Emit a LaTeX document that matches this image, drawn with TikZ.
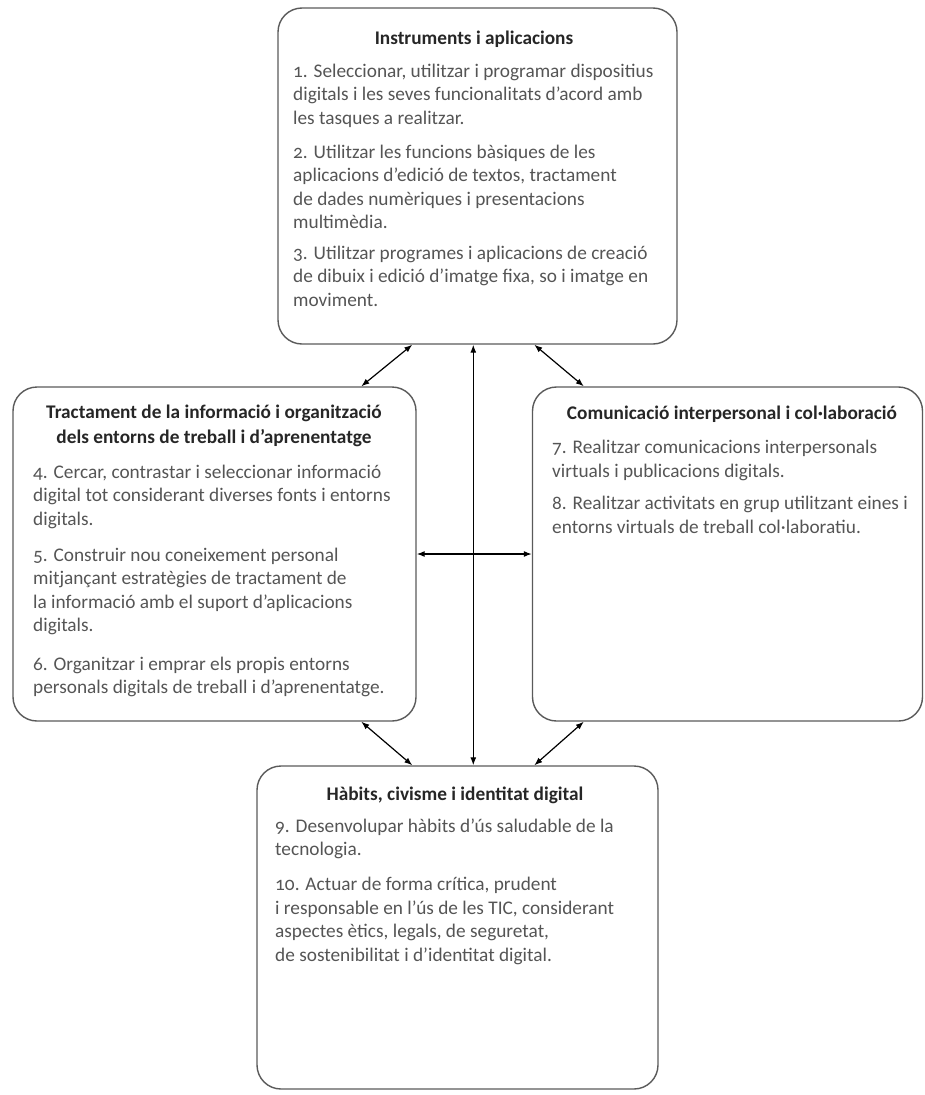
\documentclass[tikz,border=0pt]{standalone}
\usepackage{fontspec}
\setmainfont{Carlito}[Numbers=OldStyle]
\usetikzlibrary{arrows.meta,calc}
\definecolor{boxline}{HTML}{5A5A5A}
\definecolor{bodytext}{HTML}{555555}
\definecolor{titletext}{HTML}{262626}
\begin{document}
\begin{tikzpicture}[x=1pt,y=-1pt,
  panel/.style={draw=boxline, line width=1.4pt, rounded corners=24pt, inner sep=0pt},
  body/.style={anchor=north west, inner sep=0pt, align=left, text=bodytext,
    font=\fontsize{19.3}{23.6}\selectfont},
  ttl/.style={anchor=north, inner sep=0pt, align=center, text=titletext,
    font=\bfseries\fontsize{19.3}{25}\selectfont},
  link/.style={line width=1.2pt, {Latex[length=8pt,width=6pt]}-{Latex[length=8pt,width=6pt]}}]
\useasboundingbox (0,0) rectangle (925,1095);

% boxes
\node[panel, minimum width=399pt, minimum height=336pt] (top) at (477.5,176) {};
\node[panel, minimum width=403pt, minimum height=334pt] (left) at (214.5,554) {};
\node[panel, minimum width=390pt, minimum height=334pt] (right) at (727.5,554) {};
\node[panel, minimum width=401pt, minimum height=323pt] (bottom) at (457.5,927.5) {};

% top texts
\node[ttl] (ttop) at (474,31) {Instruments i aplicacions};
\node[body] (p1) at (293,63.5) {1. Seleccionar, utilitzar i programar dispositius\\digitals i les seves funcionalitats d’acord amb\\les tasques a realitzar.};
\node[body] (p2) at (293,144.5) {2. Utilitzar les funcions bàsiques de les\\aplicacions d’edició de textos, tractament\\de dades numèriques i presentacions\\multimèdia.};
\node[body] (p3) at (293,245.5) {3. Utilitzar programes i aplicacions de creació\\de dibuix i edició d’imatge fixa, so i imatge en\\moviment.};

% left texts
\node[ttl] (tleft) at (214,405) {Tractament de la informació i organització\\dels entorns de treball i d’aprenentatge};
\node[body] (p4) at (33,464.5) {4. Cercar, contrastar i seleccionar informació\\digital tot considerant diverses fonts i entorns\\digitals.};
\node[body] (p5) at (33,547.5) {5. Construir nou coneixement personal\\mitjançant estratègies de tractament de\\la informació amb el suport d’aplicacions\\digitals.};
\node[body] (p6) at (33,656.5) {6. Organitzar i emprar els propis entorns\\personals digitals de treball i d’aprenentatge.};

% right texts
\node[ttl] (tright) at (732,406) {Comunicació interpersonal i col·laboració};
\node[body] (p7) at (552,440) {7. Realitzar comunicacions interpersonals\\virtuals i publicacions digitals.};
\node[body] (p8) at (552,496) {8. Realitzar activitats en grup utilitzant eines i\\entorns virtuals de treball col·laboratiu.};

% bottom texts
\node[ttl] (tbottom) at (455,787) {Hàbits, civisme i identitat digital};
\node[body] (p9) at (275,818.5) {9. Desenvolupar hàbits d’ús saludable de la\\tecnologia.};
\node[body] (p10) at (275,877) {10. Actuar de forma crítica, prudent\\i responsable en l’ús de les TIC, considerant\\aspectes ètics, legals, de seguretat,\\de sostenibilitat i d’identitat digital.};

% connectors
\draw[link] ([xshift=135pt]top.south west) -- ([xshift=349pt]left.north west);
\draw[link] ([xshift=257pt]top.south west) -- ([xshift=52pt]right.north west);
\draw[link] ([xshift=196pt]top.south west) -- ([xshift=217pt]bottom.north west);
\draw[link] (left.east) -- (right.west);
\draw[link] ([xshift=349pt]left.south west) -- ([xshift=156pt]bottom.north west);
\draw[link] ([xshift=52pt]right.south west) -- ([xshift=278pt]bottom.north west);
\end{tikzpicture}
\end{document}
